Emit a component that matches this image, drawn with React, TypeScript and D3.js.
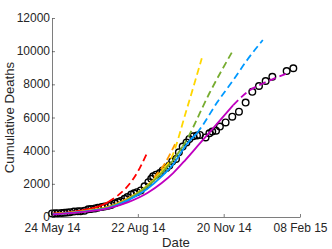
import { useEffect, useRef } from 'react';
import * as d3 from 'd3';

// day offsets are counted from 24 May 2014
const startDate = new Date(2014, 4, 24);
const endDate = new Date(2015, 1, 8);

const obsDays = [0, 3, 6, 10, 13, 16, 19, 23, 27, 30, 34, 38, 41, 45, 48, 52, 55, 59, 62, 66, 69, 72, 76, 79, 83, 86, 89, 93, 97, 101, 104, 106, 109, 113, 116, 120, 123, 126, 130, 133, 137, 141, 144, 148, 152, 155, 161, 165, 168, 172, 176, 182, 189, 196, 203, 210, 217, 224, 231, 246, 253];
const obsDeaths = [215, 225, 230, 240, 250, 270, 290, 330, 340, 350, 380, 460, 480, 520, 560, 600, 640, 680, 730, 830, 900, 960, 1100, 1200, 1350, 1430, 1500, 1600, 1850, 2100, 2300, 2450, 2550, 2650, 2800, 2950, 3100, 3350, 3500, 3900, 4250, 4500, 4700, 4870, 4920, 4950, 4800, 5050, 5150, 5200, 5450, 5700, 6050, 6350, 6900, 7550, 7900, 8200, 8450, 8800, 8970];

const redDays = [0, 10, 20, 30, 40, 50, 59, 68, 76, 84, 92, 99];
const redVals = [200, 240, 300, 380, 500, 660, 900, 1250, 1650, 2200, 2950, 3780];
const orangeDays = [0, 20, 40, 60, 80, 95, 100, 108, 118, 129];
const orangeVals = [180, 270, 410, 640, 1150, 1650, 1850, 2450, 3200, 4400];
const yellowDays = [0, 20, 40, 60, 80, 100, 115, 118, 125, 141, 157];
const yellowVals = [170, 260, 390, 600, 1100, 1900, 2750, 2980, 3550, 6450, 9570];
const greenDays = [0, 20, 40, 60, 80, 100, 115, 128, 137, 141, 165, 190];
const greenVals = [165, 250, 380, 590, 1080, 1850, 2650, 3500, 4250, 4640, 7460, 10070];
const blueDays = [0, 20, 40, 60, 80, 100, 115, 128, 140, 152, 157, 173, 190, 205, 221];
const blueVals = [160, 245, 370, 570, 1020, 1700, 2450, 3250, 4300, 5050, 5450, 6900, 8250, 9500, 10670];
const magentaDays = [0, 20, 40, 60, 80, 100, 115, 127, 140, 155, 172, 190, 205, 221, 235, 246];
const magentaVals = [150, 230, 350, 540, 900, 1450, 2050, 2650, 3450, 4440, 5550, 6750, 7550, 8050, 8400, 8650];

const models = [
  { days: redDays, vals: redVals, fitEnd: 59, color: '#ff0000' },
  { days: orangeDays, vals: orangeVals, fitEnd: 100, color: '#ff9900' },
  { days: yellowDays, vals: yellowVals, fitEnd: 118, color: '#ffd700' },
  { days: greenDays, vals: greenVals, fitEnd: 137, color: '#77ac30' },
  { days: blueDays, vals: blueVals, fitEnd: 152, color: '#0099ff' },
  { days: magentaDays, vals: magentaVals, fitEnd: 190, color: '#bf00bf' },
];

const xTicks = [0, 90, 180, 260];
const yTicks = [0, 2000, 4000, 6000, 8000, 10000, 12000];

const App = () => {
  const svgRef = useRef(null);

  useEffect(() => {
    const svg = d3.select(svgRef.current);
    svg.selectAll('*').remove();

    const width = 332;
    const height = 249;
    const margin = { top: 18, right: 32, bottom: 32, left: 52 };
    const font = 'Liberation Sans, Arial, Helvetica, sans-serif';
    const ink = '#262626';

    const day = (d: number) => d3.timeDay.offset(startDate, d);

    const x = d3
      .scaleTime()
      .domain([startDate, endDate])
      .range([margin.left, width - margin.right]);
    const y = d3
      .scaleLinear()
      .domain([0, 12000])
      .range([height - margin.bottom, margin.top]);

    // observed cumulative deaths
    svg
      .append('g')
      .selectAll('circle')
      .data(obsDays)
      .enter()
      .append('circle')
      .attr('cx', (d) => x(day(d)))
      .attr('cy', (_, i) => y(obsDeaths[i]))
      .attr('r', 3.3)
      .attr('fill', 'none')
      .attr('stroke', '#000')
      .attr('stroke-width', 1.4);

    // model fits: solid over fit window, dashed for the projection
    const line = d3
      .line<[number, number]>()
      .x((p) => x(day(p[0])))
      .y((p) => y(p[1]))
      .curve(d3.curveMonotoneX);

    models.forEach((m) => {
      const pts: [number, number][] = m.days.map((d, i) => [d, m.vals[i]]);
      const fit = pts.filter((p) => p[0] <= m.fitEnd);
      const proj = pts.filter((p) => p[0] >= m.fitEnd);
      svg
        .append('path')
        .attr('d', line(fit))
        .attr('fill', 'none')
        .attr('stroke', m.color)
        .attr('stroke-width', 1.8);
      svg
        .append('path')
        .attr('d', line(proj))
        .attr('fill', 'none')
        .attr('stroke', m.color)
        .attr('stroke-width', 1.8)
        .attr('stroke-dasharray', '7,4');
    });

    // axes
    const xAxis = d3
      .axisBottom(x)
      .tickValues(xTicks.map(day))
      .tickSizeInner(-3)
      .tickSizeOuter(0)
      // @ts-expect-error date formatter
      .tickFormat(d3.timeFormat('%d %b %y'));
    const gx = svg
      .append('g')
      .attr('transform', `translate(0,${height - margin.bottom})`)
      .call(xAxis);
    gx.selectAll('text')
      .attr('y', 15)
      .attr('dy', null)
      .style('font-size', '12px')
      .style('font-family', font)
      .attr('fill', ink);

    const yAxis = d3.axisLeft(y).tickValues(yTicks).tickSizeInner(-3).tickSizeOuter(0).tickFormat(d3.format('d'));
    const gy = svg.append('g').attr('transform', `translate(${margin.left},0)`).call(yAxis);
    gy.selectAll('text')
      .attr('x', -2)
      .attr('dy', '0.3em')
      .style('font-size', '12px')
      .style('font-family', font)
      .attr('fill', ink);

    [gx, gy].forEach((g) => {
      g.select('.domain').attr('stroke', ink).attr('stroke-width', 0.6);
      g.selectAll('.tick line').attr('stroke', ink).attr('stroke-width', 0.6);
    });

    svg
      .append('text')
      .attr('x', (margin.left + width - margin.right) / 2)
      .attr('y', 246.5)
      .attr('text-anchor', 'middle')
      .style('font-size', '13.2px')
      .style('font-family', font)
      .attr('fill', ink)
      .text('Date');

    svg
      .append('text')
      .attr('transform', `translate(13.5,${(margin.top + height - margin.bottom) / 2}) rotate(-90)`)
      .attr('text-anchor', 'middle')
      .style('font-size', '13.2px')
      .style('font-family', font)
      .attr('fill', ink)
      .text('Cumulative Deaths');
  }, []);

  return (
    <svg
      ref={svgRef}
      width={332}
      height={249}
      style={{ position: 'absolute', left: 0, top: 0, background: '#fff' }}
    ></svg>
  );
};

export default App;
